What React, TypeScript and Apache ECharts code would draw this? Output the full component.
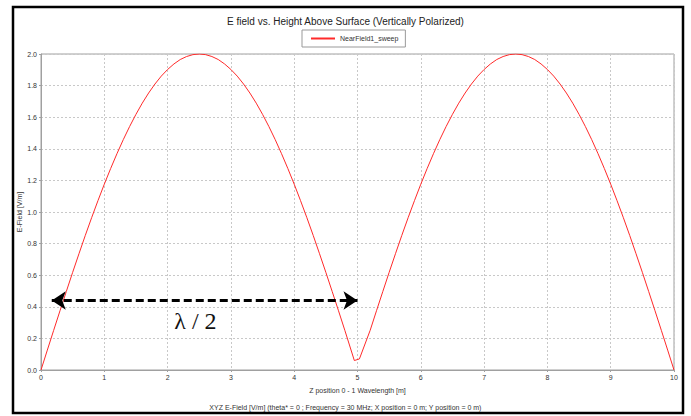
import React, { useEffect, useRef } from "react";
import * as echarts from "echarts";

const titleText = "E field vs. Height Above Surface (Vertically Polarized)";
const seriesName = "NearField1_sweep";
const xAxisName = "Z position 0 - 1 Wavelength [m]";
const yAxisName = "E-Field [V/m]";
const footerText = "XYZ E-Field [V/m] (theta* = 0 ; Frequency = 30 MHz; X position = 0 m; Y position = 0 m)";
const annotationText = "\u03bb / 2";

const zPositions = [
  0, 0.1, 0.2, 0.3, 0.4, 0.5, 0.6, 0.7, 0.8, 0.9, 1.0, 1.1, 1.2, 1.3, 1.4, 1.5, 1.6, 1.7, 1.8, 1.9,
  2.0, 2.1, 2.2, 2.3, 2.4, 2.5, 2.6, 2.7, 2.8, 2.9, 3.0, 3.1, 3.2, 3.3, 3.4, 3.5, 3.6, 3.7, 3.8, 3.9,
  4.0, 4.1, 4.2, 4.3, 4.4, 4.5, 4.6, 4.7, 4.8, 4.95, 5.03, 5.2, 5.3, 5.4, 5.5, 5.6, 5.7, 5.8, 5.9,
  6.0, 6.1, 6.2, 6.3, 6.4, 6.5, 6.6, 6.7, 6.8, 6.9, 7.0, 7.1, 7.2, 7.3, 7.4, 7.5, 7.6, 7.7, 7.8, 7.9,
  8.0, 8.1, 8.2, 8.3, 8.4, 8.5, 8.6, 8.7, 8.8, 8.9, 9.0, 9.1, 9.2, 9.3, 9.4, 9.5, 9.6, 9.7, 9.8, 9.9,
  10.0,
];
const eField = [
  0, 0.126, 0.251, 0.375, 0.497, 0.618, 0.736, 0.852, 0.964, 1.072, 1.176, 1.275, 1.369, 1.458, 1.541,
  1.618, 1.689, 1.753, 1.81, 1.86, 1.902, 1.937, 1.965, 1.984, 1.996, 2.0, 1.996, 1.984, 1.965, 1.937,
  1.902, 1.86, 1.81, 1.753, 1.689, 1.618, 1.541, 1.458, 1.369, 1.275, 1.176, 1.072, 0.964, 0.852,
  0.736, 0.618, 0.497, 0.375, 0.251, 0.06, 0.07, 0.251, 0.375, 0.497, 0.618, 0.736, 0.852, 0.964,
  1.072, 1.176, 1.275, 1.369, 1.458, 1.541, 1.618, 1.689, 1.753, 1.81, 1.86, 1.902, 1.937, 1.965,
  1.984, 1.996, 2.0, 1.996, 1.984, 1.965, 1.937, 1.902, 1.86, 1.81, 1.753, 1.689, 1.618, 1.541, 1.458,
  1.369, 1.275, 1.176, 1.072, 0.964, 0.852, 0.736, 0.618, 0.497, 0.375, 0.251, 0.126, 0,
];
const arrowStart = [0.17, 0.44];
const arrowEnd = [5.0, 0.44];
const labelPos = [2.44, 0.31];

export default function App() {
  const ref = useRef<HTMLDivElement>(null);
  useEffect(() => {
    if (!ref.current) return;
    const chart = echarts.init(ref.current, null, { renderer: "svg" });
    const font = "Liberation Sans, Arial, sans-serif";
    chart.setOption({
      animation: false,
      backgroundColor: "#ffffff",
      title: {
        text: titleText,
        left: "center",
        top: 11,
        textStyle: { fontSize: 10, fontWeight: "normal", color: "#222", fontFamily: font },
      },
      legend: {
        top: 30,
        left: 302,
        data: [seriesName],
        borderColor: "#999",
        borderWidth: 1,
        padding: [5, 7, 5, 9],
        itemWidth: 24,
        itemHeight: 2,
        itemGap: 8,
        icon: "rect",
        textStyle: { fontSize: 7, color: "#333", fontFamily: font },
      },
      grid: {
        left: 41,
        right: 17,
        top: 54,
        bottom: 46,
        show: true,
        borderColor: "#a0a0a0",
        borderWidth: 1,
      },
      xAxis: {
        type: "value",
        min: 0,
        max: 10,
        interval: 1,
        name: xAxisName,
        nameLocation: "middle",
        nameGap: 17,
        nameMoveOverlap: false,
        nameTextStyle: { fontSize: 7, color: "#333", fontFamily: font },
        axisLine: { lineStyle: { color: "#a0a0a0" } },
        axisTick: { show: true, length: 2, lineStyle: { color: "#a0a0a0" } },
        axisLabel: { fontSize: 7, color: "#333", fontFamily: font, margin: 4 },
        splitLine: { show: true, lineStyle: { color: "#c8c8c8", type: [2, 2] } },
      },
      yAxis: {
        type: "value",
        min: 0,
        max: 2,
        interval: 0.2,
        name: yAxisName,
        nameLocation: "middle",
        nameGap: 18,
        nameMoveOverlap: false,
        nameTextStyle: { fontSize: 7, color: "#333", fontFamily: font },
        axisLine: { show: true, lineStyle: { color: "#a0a0a0" } },
        axisTick: { show: true, length: 2, lineStyle: { color: "#a0a0a0" } },
        axisLabel: {
          fontSize: 7,
          color: "#333",
          fontFamily: font,
          margin: 4,
          formatter: (v: number) => v.toFixed(1),
        },
        splitLine: { show: true, lineStyle: { color: "#c8c8c8", type: [2, 2] } },
      },
      series: [
        {
          name: seriesName,
          type: "line",
          data: zPositions.map((z, i) => [z, eField[i]]),
          showSymbol: false,
          symbol: "none",
          lineStyle: { color: "#ff2a2a", width: 1 },
          itemStyle: { color: "#ff2a2a" },
          markLine: {
            silent: true,
            symbol: ["arrow", "arrow"],
            symbolSize: [14, 14],
            label: { show: false },
            lineStyle: { color: "#000", width: 3, type: [8, 4] },
            data: [[{ coord: arrowStart }, { coord: arrowEnd }]],
          },
        },
      ],
      graphic: [
        {
          type: "rect",
          shape: { x: 13, y: 7, width: 670, height: 406 },
          style: { fill: "none", stroke: "#000", lineWidth: 2.5 },
          silent: true,
        },
        {
          type: "text",
          left: "center",
          top: 404,
          style: { text: footerText, fontSize: 7, fill: "#333", fontFamily: font },
        },
      ],
    });
    const p = chart.convertToPixel({ gridIndex: 0 }, labelPos) as number[];
    chart.setOption({
      graphic: [
        {},
        {},
        {
          type: "text",
          x: p[0],
          y: p[1],
          style: {
            text: annotationText,
            fontSize: 24,
            fill: "#111",
            fontFamily: "Liberation Serif, Times New Roman, serif",
            align: "center",
            verticalAlign: "middle",
          },
        },
      ],
    });
    return () => chart.dispose();
  }, []);
  return (
    <div
      ref={ref}
      style={{ position: "fixed", left: 0, top: 0, width: 691, height: 416 }}
    />
  );
}
